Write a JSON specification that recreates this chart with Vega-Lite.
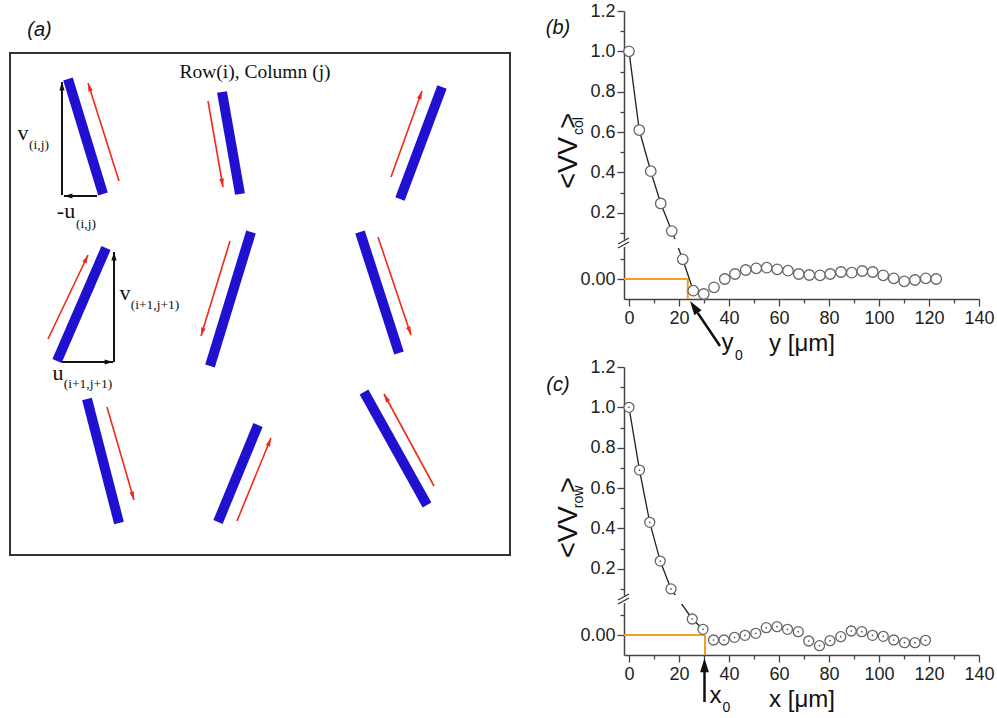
{
"$schema":"https://vega.github.io/schema/vega-lite/v6.json",
"padding":{"left":9,"top":2,"right":0,"bottom":0},
"bounds":"flush",
"spacing":114,
"config":{
 "view":{"stroke":null},
 "font":"Liberation Sans",
 "axis":{"grid":false,"domainColor":"#444","domainWidth":1.5,"tickColor":"#444","tickWidth":1.3,"labelFont":"Liberation Sans","labelFontSize":18,"labelColor":"#222","titleFont":"Liberation Sans","titleFontSize":24,"titleFontWeight":"normal","titleColor":"#111","labelPadding":2,"labelFlush":false}
},
"datasets":{
 "bars":[{"x":58,"y":576,"x2":93,"y2":461},{"x":212,"y":563,"x2":230,"y2":461},{"x":432,"y":568,"x2":390,"y2":456},{"x":96,"y":407,"x2":47,"y2":294},{"x":241,"y":423,"x2":200,"y2":289},{"x":350,"y":423,"x2":389,"y2":302},{"x":77,"y":256,"x2":109,"y2":132},{"x":248,"y":230,"x2":208,"y2":133},{"x":354,"y":263,"x2":417,"y2":150}],
 "red":[{"x":109,"y":474,"x2":78,"y2":572,"dir":342},{"x":198,"y":554,"x2":213,"y2":468,"dir":170},{"x":381,"y":478,"x2":412,"y2":564,"dir":20},{"x":38,"y":316,"x2":78,"y2":400,"dir":25},{"x":220,"y":414,"x2":191,"y2":319,"dir":197},{"x":368,"y":418,"x2":401,"y2":320,"dir":161},{"x":97,"y":248,"x2":124,"y2":155,"dir":164},{"x":227,"y":134,"x2":261,"y2":217,"dir":22},{"x":424,"y":169,"x2":374,"y2":261,"dir":331}],
 "black":[{"x":52,"y":460,"x2":52,"y2":573,"dir":0},{"x":87,"y":459,"x2":54,"y2":459,"dir":270},{"x":104,"y":293,"x2":104,"y2":403,"dir":0},{"x":52,"y":293,"x2":103,"y2":293,"dir":90}],
 "mainlab":[{"x":13,"y":515,"t":"v"},{"x":56,"y":437,"t":"-u"},{"x":115,"y":355,"t":"v"},{"x":48,"y":275,"t":"u"}],
 "sublab":[{"x":29,"y":510,"t":"(i,j)"},{"x":76,"y":431,"t":"(i,j)"},{"x":145,"y":350,"t":"(i+1,j+1)"},{"x":78,"y":271,"t":"(i+1,j+1)"}],
 "b":[{"x":0,"v":1.0},{"x":4.1,"v":0.61},{"x":8.7,"v":0.406},{"x":12.7,"v":0.246},{"x":17.1,"v":0.109},{"x":21.5,"v":0.0197},{"x":25.7,"v":-0.0117},{"x":29.9,"v":-0.015},{"x":34.0,"v":-0.0083},{"x":38.3,"v":0.0},{"x":42.4,"v":0.005},{"x":46.7,"v":0.009},{"x":50.9,"v":0.0107},{"x":55.1,"v":0.0113},{"x":59.3,"v":0.0097},{"x":63.6,"v":0.0083},{"x":67.9,"v":0.005},{"x":72.1,"v":0.004},{"x":76.4,"v":0.0037},{"x":80.5,"v":0.005},{"x":84.8,"v":0.007},{"x":89.1,"v":0.0063},{"x":93.3,"v":0.008},{"x":97.5,"v":0.007},{"x":101.7,"v":0.0037},{"x":105.9,"v":0.0007},{"x":110.1,"v":-0.0023},{"x":114.4,"v":-0.001},{"x":118.7,"v":0.0007},{"x":122.9,"v":0.0}],
 "c":[{"x":0,"v":1.0},{"x":4.2,"v":0.689},{"x":8.3,"v":0.43},{"x":12.5,"v":0.238},{"x":16.8,"v":0.1},{"x":25.3,"v":0.016},{"x":29.6,"v":0.0057},{"x":33.8,"v":-0.005},{"x":38.0,"v":-0.005},{"x":42.2,"v":-0.0023},{"x":46.4,"v":-0.0003},{"x":50.7,"v":0.0017},{"x":54.9,"v":0.0073},{"x":59.2,"v":0.0083},{"x":63.4,"v":0.0057},{"x":67.7,"v":0.0033},{"x":71.9,"v":-0.006},{"x":76.2,"v":-0.0107},{"x":80.4,"v":-0.0057},{"x":84.7,"v":-0.0017},{"x":88.9,"v":0.004},{"x":93.1,"v":0.0033},{"x":97.4,"v":-0.0003},{"x":101.7,"v":-0.0013},{"x":105.9,"v":-0.005},{"x":110.2,"v":-0.0077},{"x":114.4,"v":-0.0077},{"x":118.6,"v":-0.0053}]
},
"hconcat":[
 {
  "width":500,"height":644,
  "layer":[
   {"data":{"values":[{"x":0,"y":100,"x2":500,"y2":602}]},"mark":{"type":"rect","fill":null,"stroke":"#333","strokeWidth":2},
    "encoding":{"x":{"field":"x","type":"quantitative","scale":{"domain":[0,500],"nice":false,"zero":false},"axis":null},"x2":{"field":"x2"},"y":{"field":"y","type":"quantitative","scale":{"domain":[0,644],"nice":false,"zero":false},"axis":null},"y2":{"field":"y2"}}},
   {"data":{"name":"bars"},"mark":{"type":"rule","color":"#2010d0","strokeWidth":10,"strokeCap":"butt"},
    "encoding":{"x":{"field":"x","type":"quantitative","scale":{"domain":[0,500],"nice":false,"zero":false},"axis":null},"x2":{"field":"x2"},"y":{"field":"y","type":"quantitative","scale":{"domain":[0,644],"nice":false,"zero":false},"axis":null},"y2":{"field":"y2"}}},
   {"data":{"name":"red"},"mark":{"type":"rule","color":"#f02a1a","strokeWidth":1.6},
    "encoding":{"x":{"field":"x","type":"quantitative","scale":{"domain":[0,500],"nice":false,"zero":false},"axis":null},"x2":{"field":"x2"},"y":{"field":"y","type":"quantitative","scale":{"domain":[0,644],"nice":false,"zero":false},"axis":null},"y2":{"field":"y2"}}},
   {"data":{"name":"red"},"mark":{"type":"point","shape":"M0,0L0.45,1.6L-0.45,1.6Z","filled":true,"color":"#f02a1a","size":110,"opacity":1},
    "encoding":{"x":{"field":"x2","type":"quantitative","scale":{"domain":[0,500],"nice":false,"zero":false},"axis":null},"y":{"field":"y2","type":"quantitative","scale":{"domain":[0,644],"nice":false,"zero":false},"axis":null},"angle":{"field":"dir","type":"quantitative","scale":null}}},
   {"data":{"name":"black"},"mark":{"type":"rule","color":"#111","strokeWidth":2},
    "encoding":{"x":{"field":"x","type":"quantitative","scale":{"domain":[0,500],"nice":false,"zero":false},"axis":null},"x2":{"field":"x2"},"y":{"field":"y","type":"quantitative","scale":{"domain":[0,644],"nice":false,"zero":false},"axis":null},"y2":{"field":"y2"}}},
   {"data":{"name":"black"},"mark":{"type":"point","shape":"M0,0L0.5,1.6L-0.5,1.6Z","filled":true,"color":"#111","size":110,"opacity":1},
    "encoding":{"x":{"field":"x2","type":"quantitative","scale":{"domain":[0,500],"nice":false,"zero":false},"axis":null},"y":{"field":"y2","type":"quantitative","scale":{"domain":[0,644],"nice":false,"zero":false},"axis":null},"angle":{"field":"dir","type":"quantitative","scale":null}}},
   {"data":{"name":"mainlab"},"mark":{"type":"text","font":"Liberation Serif","fontSize":22,"color":"#111","align":"center","baseline":"alphabetic"},
    "encoding":{"x":{"field":"x","type":"quantitative","scale":{"domain":[0,500],"nice":false,"zero":false},"axis":null},"y":{"field":"y","type":"quantitative","scale":{"domain":[0,644],"nice":false,"zero":false},"axis":null},"text":{"field":"t"}}},
   {"data":{"name":"sublab"},"mark":{"type":"text","font":"Liberation Serif","fontSize":13.5,"color":"#111","align":"center","baseline":"middle"},
    "encoding":{"x":{"field":"x","type":"quantitative","scale":{"domain":[0,500],"nice":false,"zero":false},"axis":null},"y":{"field":"y","type":"quantitative","scale":{"domain":[0,644],"nice":false,"zero":false},"axis":null},"text":{"field":"t"}}},
   {"data":{"values":[{}]},"mark":{"type":"text","font":"Liberation Serif","fontSize":19.5,"color":"#111","align":"center","baseline":"middle","text":"Row(i), Column (j)"},
    "encoding":{"x":{"datum":245,"type":"quantitative","scale":{"domain":[0,500],"nice":false,"zero":false},"axis":null},"y":{"datum":583,"type":"quantitative","scale":{"domain":[0,644],"nice":false,"zero":false},"axis":null}}},
   {"data":{"values":[{}]},"mark":{"type":"text","font":"Liberation Sans","fontSize":20,"fontStyle":"italic","color":"#111","align":"center","baseline":"middle","text":"(a)"},
    "encoding":{"x":{"datum":29.5,"type":"quantitative","scale":{"domain":[0,500],"nice":false,"zero":false},"axis":null},"y":{"datum":625.5,"type":"quantitative","scale":{"domain":[0,644],"nice":false,"zero":false},"axis":null}}}
  ]
 },
 {
  "vconcat":[
   {
    "width":355,"height":288,
    "layer":[
     {"data":{"values":[{}]},"mark":{"type":"rule","color":"#f0a020","strokeWidth":2},
      "encoding":{"x":{"datum":-2,"type":"quantitative","scale":{"domain":[-2,140],"nice":false,"zero":false}},"x2":{"datum":23.5},"y":{"datum":0,"type":"quantitative","scale":{"domain":[-0.02,0.034,0.06,1.2],"range":[288,234,230,0],"nice":false,"zero":false}}}},
     {"data":{"values":[{}]},"mark":{"type":"rule","color":"#f0a020","strokeWidth":2},
      "encoding":{"x":{"datum":23.5,"type":"quantitative","scale":{"domain":[-2,140],"nice":false,"zero":false}},"y":{"datum":0,"type":"quantitative","scale":{"domain":[-0.02,0.034,0.06,1.2],"range":[288,234,230,0],"nice":false,"zero":false}},"y2":{"datum":-0.02}}},
     {"data":{"name":"b"},"transform":[{"filter":"datum.x < 26"}],"mark":{"type":"line","color":"#222","strokeWidth":1.3},
      "encoding":{"x":{"field":"x","type":"quantitative","scale":{"domain":[-2,140],"nice":false,"zero":false}},"y":{"field":"v","type":"quantitative","scale":{"domain":[-0.02,0.034,0.06,1.2],"range":[288,234,230,0],"nice":false,"zero":false}}}},
     {"data":{"values":[{}]},"mark":{"type":"rect","color":"white"},
      "encoding":{"x":{"datum":-1,"type":"quantitative","scale":{"domain":[-2,140],"nice":false,"zero":false}},"x2":{"datum":140},"y":{"datum":0.031,"type":"quantitative","scale":{"domain":[-0.02,0.034,0.06,1.2],"range":[288,234,230,0],"nice":false,"zero":false}},"y2":{"datum":0.07}}},
     {"data":{"name":"b"},"mark":{"type":"point","shape":"circle","filled":true,"fill":"white","stroke":"#666","strokeWidth":1.3,"size":110,"opacity":1},
      "encoding":{
       "x":{"field":"x","type":"quantitative","scale":{"domain":[-2,140],"nice":false,"zero":false},
            "axis":{"title":"y [μm]","values":[0,10,20,30,40,50,60,70,80,90,100,110,120,130,140],"tickCount":100,"format":"d","labelExpr":"datum.value % 20 == 0 ? datum.label : ''","tickSize":{"condition":{"test":"datum.value % 20 == 0","value":7},"value":4},"labelOverlap":false,"labelPadding":3,"titlePadding":4}},
       "y":{"field":"v","type":"quantitative","scale":{"domain":[-0.02,0.034,0.06,1.2],"range":[288,234,230,0],"nice":false,"zero":false},
            "axis":{"title":null,"values":[0,0.02,0.1,0.2,0.3,0.4,0.5,0.6,0.7,0.8,0.9,1,1.1,1.2],"tickCount":100,"labelExpr":"datum.value == 0 ? '0.00' : ((datum.value == 0.2 || datum.value == 0.4 || datum.value == 0.6 || datum.value == 0.8 || datum.value == 1 || datum.value == 1.2) ? format(datum.value, '.1f') : '')","tickSize":{"condition":{"test":"datum.value == 0 || datum.value == 0.2 || datum.value == 0.4 || datum.value == 0.6 || datum.value == 0.8 || datum.value == 1 || datum.value == 1.2","value":7},"value":4},"labelOverlap":false}}}},
     {"data":{"values":[{}]},"mark":{"type":"rule","color":"white","strokeWidth":3},
      "encoding":{"x":{"datum":-2,"type":"quantitative","scale":{"domain":[-2,140],"nice":false,"zero":false}},"y":{"datum":0.032,"type":"quantitative","scale":{"domain":[-0.02,0.034,0.06,1.2],"range":[288,234,230,0],"nice":false,"zero":false}},"y2":{"datum":0.066}}},
     {"data":{"values":[{}]},"mark":{"type":"rule","color":"#333","strokeWidth":1.3},
      "encoding":{"x":{"datum":-4.4,"type":"quantitative","scale":{"domain":[-2,140],"nice":false,"zero":false}},"x2":{"datum":0},"y":{"datum":0.0405,"type":"quantitative","scale":{"domain":[-0.02,0.034,0.06,1.2],"range":[288,234,230,0],"nice":false,"zero":false}},"y2":{"datum":0.0748}}},
     {"data":{"values":[{}]},"mark":{"type":"rule","color":"#333","strokeWidth":1.3},
      "encoding":{"x":{"datum":-4.4,"type":"quantitative","scale":{"domain":[-2,140],"nice":false,"zero":false}},"x2":{"datum":0},"y":{"datum":0.031,"type":"quantitative","scale":{"domain":[-0.02,0.034,0.06,1.2],"range":[288,234,230,0],"nice":false,"zero":false}},"y2":{"datum":0.0535}}},
     {"data":{"values":[{}]},"mark":{"type":"rule","color":"#111","strokeWidth":2.5},
      "encoding":{"x":{"datum":36.4,"type":"quantitative","scale":{"domain":[-2,140],"nice":false,"zero":false}},"x2":{"datum":27.5},"y":{"datum":-0.067,"type":"quantitative","scale":{"domain":[-0.02,0.034,0.06,1.2],"range":[288,234,230,0],"nice":false,"zero":false}},"y2":{"datum":-0.034}}},
     {"data":{"values":[{}]},"mark":{"type":"point","shape":"M0,0L0.55,1.8L-0.55,1.8Z","filled":true,"color":"#111","size":250,"opacity":1,"angle":326},
      "encoding":{"x":{"datum":24.4,"type":"quantitative","scale":{"domain":[-2,140],"nice":false,"zero":false}},"y":{"datum":-0.022,"type":"quantitative","scale":{"domain":[-0.02,0.034,0.06,1.2],"range":[288,234,230,0],"nice":false,"zero":false}}}},
     {"data":{"values":[{}]},"mark":{"type":"text","fontSize":24,"color":"#111","align":"center","baseline":"alphabetic","text":"y"},
      "encoding":{"x":{"datum":39.4,"type":"quantitative","scale":{"domain":[-2,140],"nice":false,"zero":false}},"y":{"datum":-0.071,"type":"quantitative","scale":{"domain":[-0.02,0.034,0.06,1.2],"range":[288,234,230,0],"nice":false,"zero":false}}}},
     {"data":{"values":[{}]},"mark":{"type":"text","fontSize":14,"color":"#111","align":"center","baseline":"middle","text":"0"},
      "encoding":{"x":{"datum":44.0,"type":"quantitative","scale":{"domain":[-2,140],"nice":false,"zero":false}},"y":{"datum":-0.077,"type":"quantitative","scale":{"domain":[-0.02,0.034,0.06,1.2],"range":[288,234,230,0],"nice":false,"zero":false}}}},
     {"data":{"values":[{}]},"mark":{"type":"text","fontSize":27,"color":"#111","align":"center","baseline":"alphabetic","angle":270,"text":"<VV"},
      "encoding":{"x":{"datum":-20.8,"type":"quantitative","scale":{"domain":[-2,140],"nice":false,"zero":false}},"y":{"datum":0.447,"type":"quantitative","scale":{"domain":[-0.02,0.034,0.06,1.2],"range":[288,234,230,0],"nice":false,"zero":false}}}},
     {"data":{"values":[{}]},"mark":{"type":"text","fontSize":14,"color":"#111","align":"center","baseline":"alphabetic","angle":270,"text":"col"},
      "encoding":{"x":{"datum":-18.4,"type":"quantitative","scale":{"domain":[-2,140],"nice":false,"zero":false}},"y":{"datum":0.63,"type":"quantitative","scale":{"domain":[-0.02,0.034,0.06,1.2],"range":[288,234,230,0],"nice":false,"zero":false}}}},
     {"data":{"values":[{}]},"mark":{"type":"text","fontSize":27,"color":"#111","align":"center","baseline":"alphabetic","angle":270,"text":">"},
      "encoding":{"x":{"datum":-20.8,"type":"quantitative","scale":{"domain":[-2,140],"nice":false,"zero":false}},"y":{"datum":0.655,"type":"quantitative","scale":{"domain":[-0.02,0.034,0.06,1.2],"range":[288,234,230,0],"nice":false,"zero":false}}}},
     {"data":{"values":[{}]},"mark":{"type":"text","fontSize":20,"fontStyle":"italic","color":"#111","align":"center","baseline":"middle","text":"(b)"},
      "encoding":{"x":{"datum":-28.4,"type":"quantitative","scale":{"domain":[-2,140],"nice":false,"zero":false}},"y":{"datum":1.116,"type":"quantitative","scale":{"domain":[-0.02,0.034,0.06,1.2],"range":[288,234,230,0],"nice":false,"zero":false}}}}
    ]
   },
   {
    "width":355,"height":288,
    "layer":[
     {"data":{"values":[{}]},"mark":{"type":"rule","color":"#f0a020","strokeWidth":2},
      "encoding":{"x":{"datum":-2,"type":"quantitative","scale":{"domain":[-2,140],"nice":false,"zero":false}},"x2":{"datum":30.4},"y":{"datum":0,"type":"quantitative","scale":{"domain":[-0.02,0.034,0.06,1.2],"range":[288,234,230,0],"nice":false,"zero":false}}}},
     {"data":{"values":[{}]},"mark":{"type":"rule","color":"#f0a020","strokeWidth":2},
      "encoding":{"x":{"datum":30.4,"type":"quantitative","scale":{"domain":[-2,140],"nice":false,"zero":false}},"y":{"datum":0,"type":"quantitative","scale":{"domain":[-0.02,0.034,0.06,1.2],"range":[288,234,230,0],"nice":false,"zero":false}},"y2":{"datum":-0.02}}},
     {"data":{"name":"c"},"transform":[{"filter":"datum.x < 30"}],"mark":{"type":"line","color":"#222","strokeWidth":1.3},
      "encoding":{"x":{"field":"x","type":"quantitative","scale":{"domain":[-2,140],"nice":false,"zero":false}},"y":{"field":"v","type":"quantitative","scale":{"domain":[-0.02,0.034,0.06,1.2],"range":[288,234,230,0],"nice":false,"zero":false}}}},
     {"data":{"values":[{}]},"mark":{"type":"rect","color":"white"},
      "encoding":{"x":{"datum":-1,"type":"quantitative","scale":{"domain":[-2,140],"nice":false,"zero":false}},"x2":{"datum":140},"y":{"datum":0.031,"type":"quantitative","scale":{"domain":[-0.02,0.034,0.06,1.2],"range":[288,234,230,0],"nice":false,"zero":false}},"y2":{"datum":0.07}}},
     {"data":{"name":"c"},"mark":{"type":"point","shape":"circle","filled":true,"fill":"white","stroke":"#666","strokeWidth":1.3,"size":100,"opacity":1},
      "encoding":{
       "x":{"field":"x","type":"quantitative","scale":{"domain":[-2,140],"nice":false,"zero":false},
            "axis":{"title":"x [μm]","values":[0,10,20,30,40,50,60,70,80,90,100,110,120,130,140],"tickCount":100,"format":"d","labelExpr":"datum.value % 20 == 0 ? datum.label : ''","tickSize":{"condition":{"test":"datum.value % 20 == 0","value":7},"value":4},"labelOverlap":false,"labelPadding":3,"titlePadding":4}},
       "y":{"field":"v","type":"quantitative","scale":{"domain":[-0.02,0.034,0.06,1.2],"range":[288,234,230,0],"nice":false,"zero":false},
            "axis":{"title":null,"values":[0,0.02,0.1,0.2,0.3,0.4,0.5,0.6,0.7,0.8,0.9,1,1.1,1.2],"tickCount":100,"labelExpr":"datum.value == 0 ? '0.00' : ((datum.value == 0.2 || datum.value == 0.4 || datum.value == 0.6 || datum.value == 0.8 || datum.value == 1 || datum.value == 1.2) ? format(datum.value, '.1f') : '')","tickSize":{"condition":{"test":"datum.value == 0 || datum.value == 0.2 || datum.value == 0.4 || datum.value == 0.6 || datum.value == 0.8 || datum.value == 1 || datum.value == 1.2","value":7},"value":4},"labelOverlap":false}}}},
     {"data":{"name":"c"},"mark":{"type":"point","shape":"circle","filled":true,"color":"#555","size":3,"opacity":1},
      "encoding":{"x":{"field":"x","type":"quantitative","scale":{"domain":[-2,140],"nice":false,"zero":false}},"y":{"field":"v","type":"quantitative","scale":{"domain":[-0.02,0.034,0.06,1.2],"range":[288,234,230,0],"nice":false,"zero":false}}}},
     {"data":{"values":[{}]},"mark":{"type":"rule","color":"white","strokeWidth":3},
      "encoding":{"x":{"datum":-2,"type":"quantitative","scale":{"domain":[-2,140],"nice":false,"zero":false}},"y":{"datum":0.032,"type":"quantitative","scale":{"domain":[-0.02,0.034,0.06,1.2],"range":[288,234,230,0],"nice":false,"zero":false}},"y2":{"datum":0.066}}},
     {"data":{"values":[{}]},"mark":{"type":"rule","color":"#333","strokeWidth":1.3},
      "encoding":{"x":{"datum":-4.4,"type":"quantitative","scale":{"domain":[-2,140],"nice":false,"zero":false}},"x2":{"datum":0},"y":{"datum":0.0405,"type":"quantitative","scale":{"domain":[-0.02,0.034,0.06,1.2],"range":[288,234,230,0],"nice":false,"zero":false}},"y2":{"datum":0.0748}}},
     {"data":{"values":[{}]},"mark":{"type":"rule","color":"#333","strokeWidth":1.3},
      "encoding":{"x":{"datum":-4.4,"type":"quantitative","scale":{"domain":[-2,140],"nice":false,"zero":false}},"x2":{"datum":0},"y":{"datum":0.031,"type":"quantitative","scale":{"domain":[-0.02,0.034,0.06,1.2],"range":[288,234,230,0],"nice":false,"zero":false}},"y2":{"datum":0.0535}}},
     {"data":{"values":[{}]},"mark":{"type":"rule","color":"#111","strokeWidth":2.5},
      "encoding":{"x":{"datum":30.2,"type":"quantitative","scale":{"domain":[-2,140],"nice":false,"zero":false}},"y":{"datum":-0.067,"type":"quantitative","scale":{"domain":[-0.02,0.034,0.06,1.2],"range":[288,234,230,0],"nice":false,"zero":false}},"y2":{"datum":-0.037}}},
     {"data":{"values":[{}]},"mark":{"type":"point","shape":"M0,0L0.55,1.8L-0.55,1.8Z","filled":true,"color":"#111","size":250,"opacity":1,"angle":0},
      "encoding":{"x":{"datum":30.2,"type":"quantitative","scale":{"domain":[-2,140],"nice":false,"zero":false}},"y":{"datum":-0.023,"type":"quantitative","scale":{"domain":[-0.02,0.034,0.06,1.2],"range":[288,234,230,0],"nice":false,"zero":false}}}},
     {"data":{"values":[{}]},"mark":{"type":"text","fontSize":24,"color":"#111","align":"center","baseline":"alphabetic","text":"x"},
      "encoding":{"x":{"datum":34.6,"type":"quantitative","scale":{"domain":[-2,140],"nice":false,"zero":false}},"y":{"datum":-0.068,"type":"quantitative","scale":{"domain":[-0.02,0.034,0.06,1.2],"range":[288,234,230,0],"nice":false,"zero":false}}}},
     {"data":{"values":[{}]},"mark":{"type":"text","fontSize":14,"color":"#111","align":"center","baseline":"middle","text":"0"},
      "encoding":{"x":{"datum":39.0,"type":"quantitative","scale":{"domain":[-2,140],"nice":false,"zero":false}},"y":{"datum":-0.073,"type":"quantitative","scale":{"domain":[-0.02,0.034,0.06,1.2],"range":[288,234,230,0],"nice":false,"zero":false}}}},
     {"data":{"values":[{}]},"mark":{"type":"text","fontSize":27,"color":"#111","align":"center","baseline":"alphabetic","angle":270,"text":"<VV"},
      "encoding":{"x":{"datum":-20.8,"type":"quantitative","scale":{"domain":[-2,140],"nice":false,"zero":false}},"y":{"datum":0.382,"type":"quantitative","scale":{"domain":[-0.02,0.034,0.06,1.2],"range":[288,234,230,0],"nice":false,"zero":false}}}},
     {"data":{"values":[{}]},"mark":{"type":"text","fontSize":14,"color":"#111","align":"center","baseline":"alphabetic","angle":270,"text":"row"},
      "encoding":{"x":{"datum":-18.4,"type":"quantitative","scale":{"domain":[-2,140],"nice":false,"zero":false}},"y":{"datum":0.556,"type":"quantitative","scale":{"domain":[-0.02,0.034,0.06,1.2],"range":[288,234,230,0],"nice":false,"zero":false}}}},
     {"data":{"values":[{}]},"mark":{"type":"text","fontSize":27,"color":"#111","align":"center","baseline":"alphabetic","angle":270,"text":">"},
      "encoding":{"x":{"datum":-20.8,"type":"quantitative","scale":{"domain":[-2,140],"nice":false,"zero":false}},"y":{"datum":0.615,"type":"quantitative","scale":{"domain":[-0.02,0.034,0.06,1.2],"range":[288,234,230,0],"nice":false,"zero":false}}}},
     {"data":{"values":[{}]},"mark":{"type":"text","fontSize":20,"fontStyle":"italic","color":"#111","align":"center","baseline":"middle","text":"(c)"},
      "encoding":{"x":{"datum":-28.4,"type":"quantitative","scale":{"domain":[-2,140],"nice":false,"zero":false}},"y":{"datum":1.111,"type":"quantitative","scale":{"domain":[-0.02,0.034,0.06,1.2],"range":[288,234,230,0],"nice":false,"zero":false}}}}
    ]
   }
  ],
  "spacing":68,
  "bounds":"flush"
 }
]
}
